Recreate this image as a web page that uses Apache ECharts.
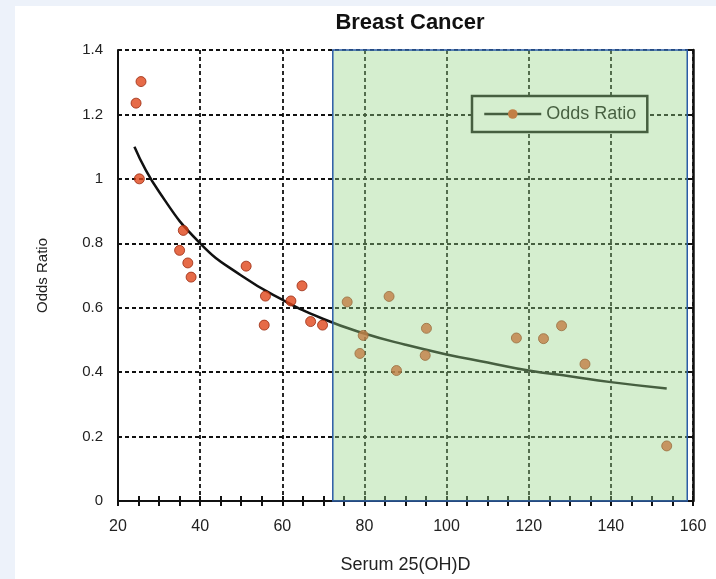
<!DOCTYPE html>
<html>
<head>
<meta charset="UTF-8">
<title>Breast Cancer</title>
<script src="https://cdn.jsdelivr.net/npm/echarts@6/dist/echarts.min.js"></script>
<style>
  html, body { margin: 0; padding: 0; background: #edf2fa; }
  #paper { position: absolute; left: 15px; top: 6px; right: 0; bottom: 0; background: #fff; }
  #main { position: absolute; left: 0; top: 0; width: 716px; height: 579px; }
</style>
</head>
<body>
<div id="paper"></div>
<div id="main"></div>
<script>
// observed odds ratios (serum 25(OH)D, odds ratio)
var pointX = [24.4, 25.6, 25.2, 35.9, 35.0, 37.0, 37.8, 51.2, 55.9, 55.6, 62.1, 64.8, 66.9, 69.8,
              75.8, 79.7, 78.9, 86.0, 87.8, 95.1, 94.8, 117.0, 123.6, 128.0, 133.7, 153.6];
var pointY = [1.235, 1.302, 1.0, 0.84, 0.778, 0.739, 0.695, 0.729, 0.636, 0.546, 0.621, 0.668, 0.557, 0.546,
              0.618, 0.514, 0.458, 0.635, 0.405, 0.536, 0.452, 0.506, 0.504, 0.544, 0.425, 0.171];

// fitted curve
var curveX = [24, 30, 40, 50, 60, 70, 80, 90, 100, 110, 120, 130, 140, 153.6];
var curveY = [1.10, 0.96, 0.80, 0.70, 0.625, 0.565, 0.52, 0.485, 0.455, 0.43, 0.405, 0.387, 0.369, 0.349];

// shaded range on the x axis
var shadeFrom = 72.3;
var shadeTo = 158.6;

var xTicks = { min: 20, max: 160, interval: 20 };
var yTicks = { min: 0, max: 1.4, interval: 0.2 };

function pairs(xs, ys) {
  var out = [];
  for (var i = 0; i < xs.length; i++) out.push([xs[i], ys[i]]);
  return out;
}

var gridLine = { show: true, lineStyle: { color: '#111', width: 1.8, type: [4, 3] } };
var axisFont = { fontFamily: 'Liberation Sans, Arial', fontSize: 16, color: '#222' };

var myChart = echarts.init(document.getElementById('main'));
myChart.setOption({
  backgroundColor: 'transparent',
  animation: false,
  title: {
    text: 'Breast Cancer',
    left: 405, top: 7, textAlign: 'center',
    textStyle: { fontFamily: 'Liberation Sans, Arial', fontSize: 22, fontWeight: 'bold', color: '#111' }
  },
  legend: {
    data: ['Odds Ratio'],
    left: 472, top: 96,
    padding: [9, 11],
    itemWidth: 57, itemHeight: 12,
    backgroundColor: '#fff',
    borderColor: '#111', borderWidth: 2.5,
    lineStyle: { width: 2.5, color: '#111' },
    textStyle: { fontFamily: 'Liberation Sans, Arial', fontSize: 18, color: '#111' }
  },
  grid: { left: 118, right: 23, top: 50, bottom: 78 },
  xAxis: [{
    type: 'value', min: xTicks.min, max: xTicks.max, interval: xTicks.interval,
    name: 'Serum 25(OH)D', nameLocation: 'middle', nameGap: 55,
    nameTextStyle: { fontFamily: 'Liberation Sans, Arial', fontSize: 18, color: '#222' },
    axisLine: { lineStyle: { color: '#111', width: 2 } },
    axisTick: { inside: true, length: 5, lineStyle: { color: '#111', width: 2 } },
    minorTick: { show: true, splitNumber: 4, length: 5, lineStyle: { color: '#111', width: 2 } },
    axisLabel: Object.assign({ margin: 18 }, axisFont),
    splitLine: gridLine
  }, {
    type: 'value', position: 'top', min: xTicks.min, max: xTicks.max, interval: xTicks.interval,
    axisLine: { show: true, lineStyle: { color: '#111', width: 2 } },
    axisTick: { inside: true, length: 5, lineStyle: { color: '#111', width: 2 } },
    minorTick: { show: true, splitNumber: 4, length: 5, lineStyle: { color: '#111', width: 2 } },
    axisLabel: { show: false },
    splitLine: { show: false }
  }],
  yAxis: [{
    type: 'value', min: yTicks.min, max: yTicks.max, interval: yTicks.interval,
    name: 'Odds Ratio', nameLocation: 'middle', nameGap: 68,
    nameTextStyle: { fontFamily: 'Liberation Sans, Arial', fontSize: 15, color: '#222' },
    axisLine: { show: true, lineStyle: { color: '#111', width: 2 } },
    axisTick: { show: false },
    axisLabel: Object.assign({ margin: 15 }, axisFont, { fontSize: 15 }),
    splitLine: gridLine
  }, {
    type: 'value', position: 'right', min: yTicks.min, max: yTicks.max, interval: yTicks.interval,
    axisLine: { show: true, lineStyle: { color: '#111', width: 2.5 } },
    axisTick: { inside: true, length: 5, lineStyle: { color: '#111', width: 2 } },
    axisLabel: { show: false },
    splitLine: { show: false }
  }],
  series: [{
    name: 'Observed',
    type: 'scatter',
    z: 3,
    symbolSize: 10,
    itemStyle: { color: '#e0461a', borderColor: '#9a2a10', borderWidth: 1 },
    data: pairs(pointX, pointY)
  }, {
    name: 'Odds Ratio',
    type: 'line',
    z: 2,
    smooth: true,
    showSymbol: false,
    symbol: 'circle',
    itemStyle: { color: '#e0461a' },
    lineStyle: { color: '#111', width: 2.5 },
    data: pairs(curveX, curveY)
  }, {
    name: 'shade',
    type: 'line',
    z: 10,
    data: [],
    markArea: {
      silent: true,
      z: 10,
      itemStyle: { color: 'rgba(150,212,135,0.4)', borderColor: '#2b5ca6', borderWidth: 1.5 },
      data: [[{ xAxis: shadeFrom, yAxis: yTicks.min }, { xAxis: shadeTo, yAxis: yTicks.max }]]
    }
  }]
});
</script>
</body>
</html>
